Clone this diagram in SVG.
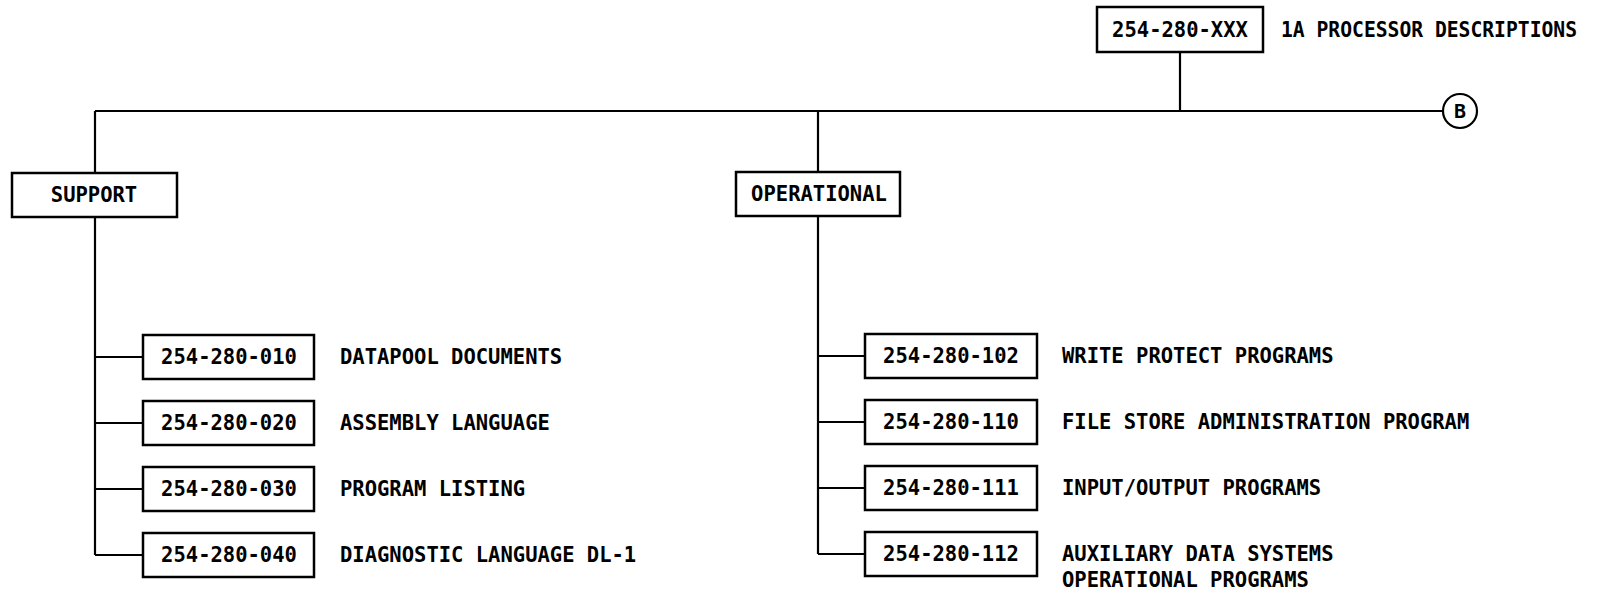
<svg xmlns="http://www.w3.org/2000/svg" width="1602" height="593" viewBox="0 0 1602 593">
<style>
.box{fill:#fff;stroke:#000;stroke-width:2.5}
.ln{fill:none;stroke:#000;stroke-width:2.2}
text{font-family:"DejaVu Sans Mono","Liberation Mono",monospace;font-weight:bold;font-size:20.5px;fill:#000}
.c{text-anchor:middle}
</style>
<rect width="1602" height="593" fill="#fff"/>
<g id="connectors">
<path class="ln" d="M1180 52V111M95 111H1443M95 111V173M818 111V172"/>
<path class="ln" d="M95 217V555M95 357H143M95 423H143M95 489H143M95 555H143"/>
<path class="ln" d="M818 216V554M818 356H865M818 422H865M818 488H865M818 554H865"/>
</g>
<g id="n-root"><rect class="box" x="1097" y="7" width="166" height="45"/><text class="c" x="1180" y="37">254-280-XXX</text><text x="1281" y="37" textLength="296" lengthAdjust="spacingAndGlyphs">1A PROCESSOR DESCRIPTIONS</text></g>
<g id="n-B"><circle cx="1460" cy="111" r="17" fill="#fff" stroke="#000" stroke-width="2.2"/><text class="c" x="1460" y="118" style="font-size:20px">B</text></g>
<g id="n-support"><rect class="box" x="12" y="173" width="165" height="44"/><text class="c" x="94" y="202">SUPPORT</text></g>
<g id="n-operational"><rect class="box" x="736" y="172" width="164" height="44"/><text class="c" x="819" y="201">OPERATIONAL</text></g>
<g id="n-010"><rect class="box" x="143" y="335" width="171" height="44"/><text class="c" x="229" y="364">254-280-010</text><text x="340" y="364">DATAPOOL DOCUMENTS</text></g>
<g id="n-020"><rect class="box" x="143" y="401" width="171" height="44"/><text class="c" x="229" y="430">254-280-020</text><text x="340" y="430">ASSEMBLY LANGUAGE</text></g>
<g id="n-030"><rect class="box" x="143" y="467" width="171" height="44"/><text class="c" x="229" y="496">254-280-030</text><text x="340" y="496">PROGRAM LISTING</text></g>
<g id="n-040"><rect class="box" x="143" y="533" width="171" height="44"/><text class="c" x="229" y="562">254-280-040</text><text x="340" y="562">DIAGNOSTIC LANGUAGE DL-1</text></g>
<g id="n-102"><rect class="box" x="865" y="334" width="172" height="44"/><text class="c" x="951" y="363">254-280-102</text><text x="1062" y="363">WRITE PROTECT PROGRAMS</text></g>
<g id="n-110"><rect class="box" x="865" y="400" width="172" height="44"/><text class="c" x="951" y="429">254-280-110</text><text x="1062" y="429">FILE STORE ADMINISTRATION PROGRAM</text></g>
<g id="n-111"><rect class="box" x="865" y="466" width="172" height="44"/><text class="c" x="951" y="495">254-280-111</text><text x="1062" y="495">INPUT/OUTPUT PROGRAMS</text></g>
<g id="n-112"><rect class="box" x="865" y="532" width="172" height="44"/><text class="c" x="951" y="561">254-280-112</text><text x="1062" y="561">AUXILIARY DATA SYSTEMS</text><text x="1062" y="587">OPERATIONAL PROGRAMS</text></g>
</svg>
